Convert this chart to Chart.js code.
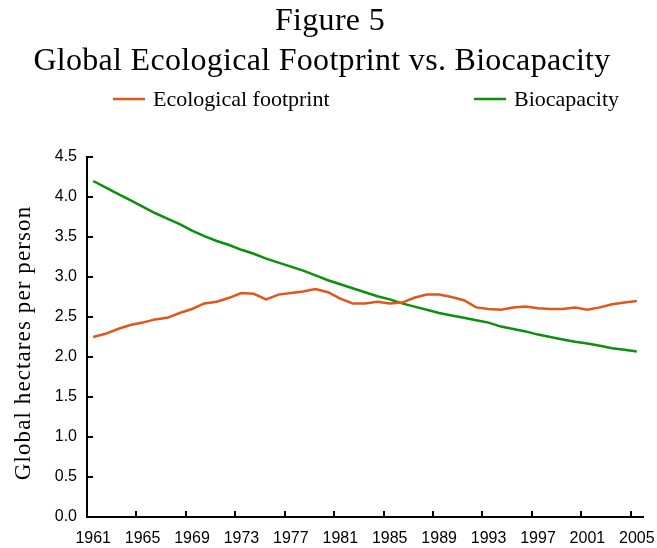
<!DOCTYPE html>
<html>
<head>
<meta charset="utf-8">
<script src="https://cdn.jsdelivr.net/npm/chart.js@4/dist/chart.umd.min.js"></script>
<style>
  html, body { margin: 0; padding: 0; background: #fff; }
  #wrap { width: 657px; height: 548px; }
</style>
</head>
<body>
<div id="wrap"><canvas id="footprintChart" width="657" height="548"></canvas></div>
<script>
// data, one value per year
const years = [];
for (let y = 1961; y <= 2005; y++) years.push(y);

const footprint = [
    2.25, 2.29, 2.35, 2.40, 2.43, 2.47, 2.49, 2.55, 2.60, 2.67,
    2.69, 2.74, 2.80, 2.79, 2.72, 2.78, 2.80, 2.82, 2.85, 2.81,
    2.73, 2.67, 2.67, 2.69, 2.67, 2.68, 2.74, 2.78, 2.78, 2.75,
    2.71, 2.62, 2.60, 2.59, 2.62, 2.63, 2.61, 2.60, 2.60, 2.62,
    2.59, 2.62, 2.66, 2.68, 2.70
];

const biocapacity = [
    4.20, 4.12, 4.04, 3.96, 3.88, 3.80, 3.73, 3.66, 3.58, 3.51,
    3.45, 3.40, 3.34, 3.29, 3.23, 3.18, 3.13, 3.08, 3.02, 2.96,
    2.91, 2.86, 2.81, 2.76, 2.72, 2.67, 2.63, 2.59, 2.55, 2.52,
    2.49, 2.46, 2.43, 2.38, 2.35, 2.32, 2.28, 2.25, 2.22, 2.19,
    2.17, 2.14, 2.11, 2.09, 2.07
];

const yearTicks = [1961, 1965, 1969, 1973, 1977, 1981, 1985, 1989, 1993, 1997, 2001, 2005];
const titleLines = ["Figure 5", "Global Ecological Footprint vs. Biocapacity"];
const yTitle = "Global hectares per person";

const SERIF = "'Liberation Serif', 'Times New Roman', serif";
const SANS = "'Liberation Sans', Arial, sans-serif";

// title, legend and y title drawn by hand (legend items sit far apart)
const headerPlugin = {
    id: "header",
    afterDraw(chart) {
        const ctx = chart.ctx;
        ctx.save();
        ctx.fillStyle = "#000";
        ctx.textAlign = "center";
        ctx.textBaseline = "alphabetic";
        ctx.font = "32px " + SERIF;
        ctx.letterSpacing = "0.3px";
        ctx.fillText(titleLines[0], 330, 30);
        ctx.fillText(titleLines[1], 322, 70);

        const slots = [113, 474];
        ctx.font = "22px " + SERIF;
        ctx.letterSpacing = "0px";
        ctx.textAlign = "left";
        ctx.textBaseline = "middle";
        chart.data.datasets.forEach((ds, i) => {
            const x = slots[i];
            ctx.strokeStyle = ds.borderColor;
            ctx.lineWidth = 2.5;
            ctx.beginPath();
            ctx.moveTo(x, 99);
            ctx.lineTo(x + 32, 99);
            ctx.stroke();
            ctx.fillStyle = "#000";
            ctx.fillText(ds.label, x + 40, 100);
        });

        ctx.translate(24, 343);
        ctx.rotate(-Math.PI / 2);
        ctx.textAlign = "center";
        ctx.font = "23px " + SERIF;
        ctx.letterSpacing = "1.1px";
        ctx.fillText(yTitle, 0, 0);
        ctx.restore();
    }
};

// short tick marks pointing into the plot area, x ticks on category edges
const innerTicks = {
    id: "innerTicks",
    afterDraw(chart) {
        const { ctx, chartArea, scales } = chart;
        const half = (scales.x.getPixelForValue(1) - scales.x.getPixelForValue(0)) / 2;
        ctx.save();
        ctx.strokeStyle = "#000";
        ctx.lineWidth = 2;
        ctx.beginPath();
        yearTicks.slice(1).forEach(v => {
            const x = Math.round(scales.x.getPixelForValue(years.indexOf(v)) - half);
            ctx.moveTo(x, chartArea.bottom);
            ctx.lineTo(x, chartArea.bottom - 6);
        });
        scales.y.ticks.forEach(t => {
            if (t.value === 0) return;
            const y = Math.round(scales.y.getPixelForValue(t.value));
            ctx.moveTo(chartArea.left, y);
            ctx.lineTo(chartArea.left + 6, y);
        });
        ctx.stroke();
        ctx.restore();
    }
};

const ctx = document.getElementById("footprintChart").getContext("2d");
new Chart(ctx, {
    type: "line",
    data: {
        labels: years,
        datasets: [
            {
                label: "Ecological footprint",
                data: footprint,
                borderColor: "#E0561B",
                borderWidth: 2.5,
                pointRadius: 0,
                tension: 0,
            },
            {
                label: "Biocapacity",
                data: biocapacity,
                borderColor: "#0C900C",
                borderWidth: 2.5,
                pointRadius: 0,
                tension: 0,
            },
        ],
    },
    options: {
        responsive: false,
        animation: false,
        layout: {
            padding: { top: 157, right: 14, left: 0, bottom: 0 },
        },
        plugins: {
            legend: { display: false },
            title: { display: false },
            tooltip: { enabled: false },
        },
        scales: {
            x: {
                type: "category",
                offset: true,
                afterFit: scale => {
                    scale.height = 31;
                    scale.paddingLeft = 0;
                    scale.paddingRight = 0;
                },
                grid: { display: false, drawTicks: false },
                border: { display: true, color: "#000", width: 2 },
                ticks: {
                    color: "#000",
                    padding: 12,
                    maxRotation: 0,
                    autoSkip: false,
                    font: { family: SANS, size: 16 },
                    callback: (v, i) => yearTicks.includes(years[i]) ? String(years[i]) : "",
                },
            },
            y: {
                min: 0,
                max: 4.5,
                afterFit: scale => { scale.width = 87; },
                grid: { display: false, drawTicks: false },
                border: { display: true, color: "#000", width: 2 },
                ticks: {
                    stepSize: 0.5,
                    color: "#000",
                    padding: 10,
                    font: { family: SANS, size: 16 },
                    callback: v => Number(v).toFixed(1),
                },
            },
        },
    },
    plugins: [headerPlugin, innerTicks],
});
</script>
</body>
</html>
